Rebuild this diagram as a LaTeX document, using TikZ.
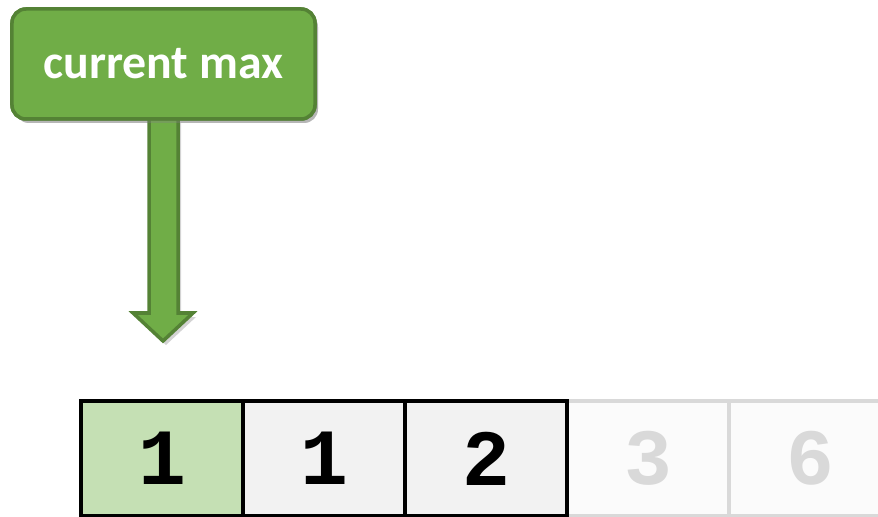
\documentclass[tikz,border=0pt]{standalone}
\usepackage{fontspec}
\setmainfont{Carlito}
\newfontfamily\monof{Liberation Mono}
\usetikzlibrary{shadows}
\definecolor{gfill}{HTML}{70AD47}
\definecolor{gline}{HTML}{548235}
\definecolor{cgreen}{HTML}{C5E0B4}
\definecolor{cgrey}{HTML}{F2F2F2}
\definecolor{cfaint}{HTML}{FBFBFB}
\definecolor{fline}{HTML}{D9D9D9}
\tikzset{
  shad/.style={drop shadow={opacity=0.35,shadow xshift=3bp,shadow yshift=-4bp}},
  lbl/.style={draw=gline,fill=gfill,line width=3.5bp,rounded corners=14bp,
    minimum width=303bp,minimum height=110bp,inner sep=0,
    text=white,font=\fontsize{48}{48}\selectfont\bfseries,shad},
  cell/.style={draw=black,line width=3.5bp,minimum width=162bp,minimum height=115bp,
    inner sep=0,font=\fontsize{80}{80}\selectfont\monof\bfseries},
  faint/.style={cell,draw=fline,fill=cfaint,text=fline},
  arr/.style={draw=gline,fill=gfill,line width=3.5bp,line join=miter,shad}
}
\begin{document}
\begin{tikzpicture}[x=1bp,y=-1bp]
\useasboundingbox (0,0) rectangle (878,517);
\clip (0,0) rectangle (878,517);
\node[lbl] (L) at (163.5,64) {current max};
\coordinate (T) at (163,341);
\draw[arr] (149,119) -- (149,313) -- (133,313) -- (T) -- (193,313) -- (178,313) -- (178,119) -- cycle;
\node[lbl,drop shadow={opacity=0}] at (L) {current max};
\node[faint] (c5) at (810,458.5) {6};
\node[faint] (c4) at (648,458.5) {3};
\node[cell,fill=cgrey] (c3) at (486,458.5) {2};
\node[cell,fill=cgrey] (c2) at (324,458.5) {1};
\node[cell,fill=cgreen] (c1) at (162,458.5) {1};
\end{tikzpicture}
\end{document}
